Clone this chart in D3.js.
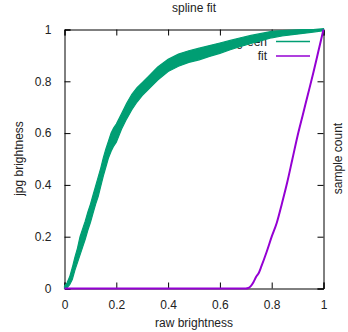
<!DOCTYPE html>
<html><head><meta charset="utf-8">
<script src="https://cdn.jsdelivr.net/npm/d3@7"></script>
<style>
html,body{margin:0;padding:0;background:#fff;}
text{font-family:"Liberation Sans",Arial,sans-serif;font-size:12px;fill:#222;}
</style></head>
<body><svg id="c" width="348" height="332"></svg>
<script>
// green samples: band of jpg brightness vs raw brightness (lower / upper edge)
const greenX  = [0,0.01,0.02,0.03,0.04,0.05,0.06,0.07,0.08,0.09,0.10,0.11,0.12,0.13,0.14,0.15,0.16,0.17,0.18,0.19,0.20,0.22,0.24,0.26,0.28,0.30,0.33,0.36,0.40,0.44,0.48,0.52,0.56,0.60,0.64,0.68,0.72,0.76,0.80,0.84,0.88,0.92,0.96,1.0];
const greenLo = [0,0.003,0.015,0.035,0.07,0.10,0.13,0.16,0.19,0.225,0.255,0.29,0.325,0.355,0.395,0.435,0.47,0.505,0.53,0.55,0.565,0.615,0.655,0.69,0.72,0.745,0.775,0.805,0.838,0.858,0.873,0.883,0.896,0.908,0.922,0.935,0.946,0.957,0.968,0.975,0.98,0.985,0.99,0.995];
const greenHi = [0.01,0.022,0.045,0.08,0.12,0.155,0.20,0.23,0.26,0.295,0.325,0.36,0.395,0.43,0.465,0.505,0.54,0.57,0.60,0.62,0.635,0.675,0.715,0.75,0.775,0.795,0.825,0.855,0.885,0.905,0.918,0.928,0.938,0.948,0.958,0.968,0.977,0.985,0.993,0.996,0.998,1.0,1.0,1.003];
// spline fit
const fitX = [0,0.70,0.71,0.72,0.73,0.74,0.75,0.76,0.78,0.80,0.82,0.84,0.86,0.88,0.90,0.92,0.94,0.96,0.98,1.0];
const fitY = [0,0,0.002,0.01,0.025,0.045,0.06,0.085,0.14,0.20,0.255,0.33,0.41,0.50,0.59,0.67,0.75,0.83,0.915,1.0];
const xTicks = [0,0.2,0.4,0.6,0.8,1];
const yTicks = [0,0.2,0.4,0.6,0.8,1];
const legendLabels = ["green","fit"];
const colors = ["#009e73","#9400d3"];

const svg = d3.select("#c");
const L=64.5, R=323.5, T=29.5, B=288.5;
const x = d3.scaleLinear().domain([0,1]).range([L,R]);
const y = d3.scaleLinear().domain([0,1]).range([B,T]);

// title and labels
svg.append("text").attr("x",(L+R)/2).attr("y",12).attr("text-anchor","middle").text("spline fit");
svg.append("text").attr("x",(L+R)/2).attr("y",327).attr("text-anchor","middle").text("raw brightness");
svg.append("text").attr("transform","translate(23,158.5) rotate(-90)").attr("text-anchor","middle").text("jpg brightness");
svg.append("text").attr("transform","translate(342,158.5) rotate(-90)").attr("text-anchor","middle").text("sample count");

// axes (ticks inward, mirrored)
const g = svg.append("g");
g.append("g").attr("transform",`translate(0,${B})`)
  .call(d3.axisBottom(x).tickValues(xTicks).tickSize(-6).tickPadding(12).tickFormat(d3.format("~g")));
g.append("g").attr("transform",`translate(0,${T})`)
  .call(d3.axisTop(x).tickValues(xTicks).tickSize(-6).tickFormat(""));
g.append("g").attr("transform",`translate(${L},0)`)
  .call(d3.axisLeft(y).tickValues(yTicks).tickSize(-6).tickPadding(13).tickFormat(d3.format("~g")));
g.append("g").attr("transform",`translate(${R},0)`)
  .call(d3.axisRight(y).tickValues(yTicks).tickSize(-6).tickFormat(""));
g.selectAll(".domain").attr("stroke","#000").attr("stroke-width",1);
g.selectAll(".tick line").attr("stroke","#000");
g.selectAll(".tick text").attr("font-size","12px").attr("fill","#222").attr("font-family","Liberation Sans, Arial, sans-serif");

// legend
legendLabels.forEach((lab,i)=>{
  const ly = 41.5 + i*14.5;
  svg.append("text").attr("x",267).attr("y",ly).attr("dy","0.35em").attr("text-anchor","end").text(lab);
  svg.append("line").attr("x1",276).attr("x2",310).attr("y1",ly).attr("y2",ly)
    .attr("stroke",colors[i]).attr("stroke-width",1.5);
});

// green band
const band = greenX.map((v,i)=>({x:v,lo:greenLo[i],hi:greenHi[i]}));
svg.append("path").datum(band)
  .attr("d",d3.area().x(d=>x(d.x)).y0(d=>y(d.lo)).y1(d=>y(d.hi)))
  .attr("fill",colors[0]).attr("stroke",colors[0]).attr("stroke-width",1.2);

// fit line
const fit = fitX.map((v,i)=>({x:v,y:fitY[i]}));
svg.append("path").datum(fit)
  .attr("d",d3.line().x(d=>x(d.x)).y(d=>y(d.y)).curve(d3.curveMonotoneX))
  .attr("fill","none").attr("stroke",colors[1]).attr("stroke-width",2);
</script></body></html>
